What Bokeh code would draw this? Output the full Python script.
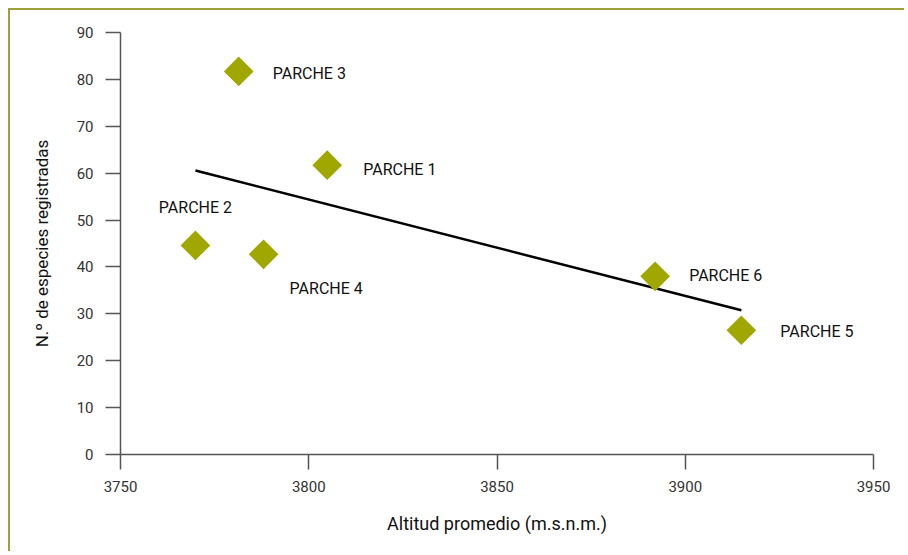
import numpy as np
from bokeh.plotting import figure
from bokeh.models import ColumnDataSource, Range1d, FixedTicker
from bokeh.core.properties import value
from bokeh.embed import file_html
from bokeh.resources import INLINE

# ---- data ----
patches = ["PARCHE 1", "PARCHE 2", "PARCHE 3", "PARCHE 4", "PARCHE 5", "PARCHE 6"]
altitude = [3804.9, 3769.9, 3781.4, 3788.0, 3914.9, 3892.0]
species = [61.7, 44.6, 81.7, 42.7, 26.5, 38.0]
x_ticks = [3750, 3800, 3850, 3900, 3950]
y_ticks = [0, 10, 20, 30, 40, 50, 60, 70, 80, 90]

# label placement (screen px offsets) - layout only
label_dx = [36, 0, 34, 26, 39, 34]
label_dy = [4, -38, 2, 34, 1, -1]
label_align = ["left", "center", "left", "left", "left", "left"]

FONT = "Roboto"
OLIVE = "#a0a700"

# linear trend (least squares)
slope, intercept = np.polyfit(altitude, species, 1)
trend_x = [min(altitude), max(altitude)]
trend_y = [slope * v + intercept for v in trend_x]

p = figure(width=896, height=543, output_backend="svg", toolbar_location=None,
           x_range=Range1d(3750, 3950), y_range=Range1d(0, 90),
           min_border_left=110, min_border_top=22, min_border_right=33,
           min_border_bottom=99)
p.styles = {"margin-left": "8px", "margin-top": "8px",
            "border-top": "2px solid #9c9f3a", "border-left": "2px solid #9c9f3a"}
p.outline_line_color = None
p.xgrid.visible = False
p.ygrid.visible = False
p.background_fill_color = "white"

p.line(trend_x, trend_y, line_color="black", line_width=2.5)

src = ColumnDataSource(dict(x=altitude, y=species, name=patches,
                            dx=label_dx, dy=label_dy, align=label_align))
p.scatter("x", "y", source=src, marker="square", angle=np.pi / 4, size=21,
          fill_color=OLIVE, line_color=None)
p.text("x", "y", text="name", source=src, x_offset="dx", y_offset="dy",
       text_align="align", text_baseline="middle",
       text_font=value(FONT), text_font_size="16px", text_color="#111111")

for ax in (p.xaxis[0], p.yaxis[0]):
    ax.axis_line_color = "#555555"
    ax.axis_line_width = 1.5
    ax.major_tick_line_color = "#555555"
    ax.major_tick_line_width = 1.5
    ax.major_tick_out = 15
    ax.major_tick_in = 0
    ax.minor_tick_line_color = None
    ax.major_label_text_font = FONT
    ax.major_label_text_font_size = "15px"
    ax.major_label_text_color = "#333333"
    ax.axis_label_text_font = FONT
    ax.axis_label_text_font_style = "normal"
    ax.axis_label_text_color = "#111111"

p.xaxis.axis_label_text_font_size = "18px"
p.yaxis.axis_label_text_font_size = "17px"
p.xaxis.ticker = FixedTicker(ticks=x_ticks)
p.yaxis.ticker = FixedTicker(ticks=y_ticks)
p.xaxis.axis_label = "Altitud promedio (m.s.n.m.)"
p.yaxis.axis_label = "N.º de especies registradas"
p.xaxis.major_label_standoff = 11
p.yaxis.major_label_standoff = 12
p.xaxis.axis_label_standoff = 18
p.yaxis.axis_label_standoff = 22

open("out.html", "w").write(file_html(p, INLINE))
